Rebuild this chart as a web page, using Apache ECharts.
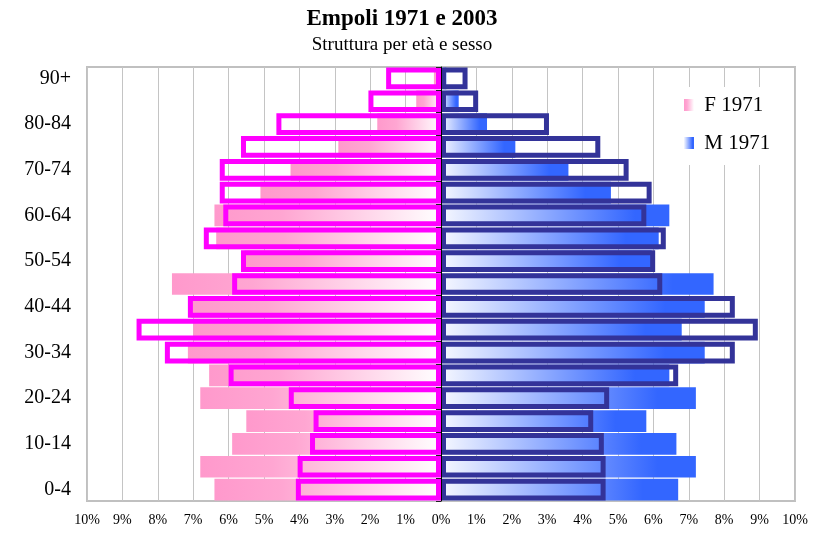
<!DOCTYPE html>
<html>

<head>
	<meta charset="utf-8">
	<title>Empoli 1971 e 2003</title>
	<script src="https://cdn.jsdelivr.net/npm/echarts@6/dist/echarts.min.js"></script>
	<style>
		html, body { margin: 0; padding: 0; background: #fff; }
		#chart { width: 814px; height: 533px; }
	</style>
</head>

<body>
	<div id="chart"></div>

	<script>
		// classi di età, dal basso verso l'alto
		var ageGroups = ['0-4', '5-9', '10-14', '15-19', '20-24', '25-29', '30-34', '35-39', '40-44', '45-49',
			'50-54', '55-59', '60-64', '65-69', '70-74', '75-79', '80-84', '85-89', '90+'];

		// percentuali sul totale
		var femmine1971 = [6.4, 6.8, 5.9, 5.5, 6.8, 6.55, 7.15, 7.0, 7.05, 7.6, 5.55, 6.35, 6.4, 5.1, 4.25, 2.9, 1.8, 0.7, 0.2];
		var maschi1971 = [6.7, 7.2, 6.65, 5.8, 7.2, 6.45, 7.45, 6.8, 7.45, 7.7, 5.95, 6.15, 6.45, 4.8, 3.6, 2.1, 1.3, 0.5, 0.15];
		var femmine2003 = [4.1, 4.05, 3.7, 3.6, 4.3, 6.0, 7.8, 8.6, 7.15, 5.9, 5.65, 6.7, 6.15, 6.25, 6.25, 5.65, 4.65, 2.05, 1.55];
		var maschi2003 = [4.65, 4.65, 4.6, 4.3, 4.75, 6.7, 8.3, 8.95, 8.3, 6.25, 6.05, 6.35, 5.8, 5.95, 5.3, 4.5, 3.05, 1.05, 0.75];

		var font = 'Liberation Serif';

		// le femmine vanno a sinistra
		function negativi(arr) {
			return arr.map(function (v) { return -v; });
		}

		var chart = echarts.init(document.getElementById('chart'));

		var option = {
			animation: false,
			title: {
				text: 'Empoli 1971 e 2003',
				subtext: 'Struttura per età e sesso',
				left: 402,
				top: 7,
				textAlign: 'center',
				padding: 0,
				itemGap: 2,
				textStyle: { fontFamily: font, fontSize: 23, fontWeight: 'bold', color: '#000', lineHeight: 25 },
				subtextStyle: { fontFamily: font, fontSize: 19, color: '#000', lineHeight: 22 }
			},
			legend: {
				data: ['F 1971', 'M 1971'],
				orient: 'vertical',
				left: 676,
				top: 87,
				padding: [6, 12, 10, 8],
				backgroundColor: '#fff',
				itemWidth: 10,
				itemHeight: 12,
				itemGap: 14,
				selectedMode: false,
				icon: 'rect',
				formatter: function (name) { return ' ' + name; },
				textStyle: { fontFamily: font, fontSize: 21, color: '#000', lineHeight: 24 }
			},
			grid: {
				left: 87,
				right: 19,
				top: 67,
				bottom: 32,
				show: true,
				borderColor: '#c0c0c0',
				borderWidth: 2
			},
			xAxis: {
				type: 'value',
				min: -10,
				max: 10,
				interval: 1,
				axisLine: { show: false },
				axisTick: { show: false },
				splitLine: { show: true, lineStyle: { color: '#c4c4c4', width: 1 } },
				axisLabel: {
					fontFamily: font,
					fontSize: 14,
					color: '#000',
					margin: 12,
					formatter: function (v) { return Math.abs(v) + '%'; }
				}
			},
			yAxis: [
				{
					// etichette a sinistra
					type: 'category',
					data: ageGroups,
					position: 'left',
					axisLine: { show: false, onZero: false },
					axisTick: { show: false },
					axisLabel: { interval: 1, align: 'right', margin: 16, fontFamily: font, fontSize: 20, color: '#000' }
				},
				{
					// asse centrale sullo zero
					type: 'category',
					data: ageGroups,
					position: 'left',
					z: 10,
					axisLine: { show: true, onZero: true, lineStyle: { color: '#000', width: 1 } },
					axisTick: { show: true, length: 5, lineStyle: { color: '#222' } },
					axisLabel: { show: false }
				}
			],
			series: [
				{
					name: 'F 1971',
					type: 'bar',
					yAxisIndex: 0,
					barGap: '-100%',
					barCategoryGap: '5%',
					data: negativi(femmine1971),
					itemStyle: {
						color: new echarts.graphic.LinearGradient(0, 0, 1, 0, [
							{ offset: 0, color: '#ff99cc' },
							{ offset: 0.3, color: '#ffa6d2' },
							{ offset: 1, color: '#ffffff' }
						])
					}
				},
				{
					name: 'M 1971',
					type: 'bar',
					yAxisIndex: 0,
					barGap: '-100%',
					barCategoryGap: '5%',
					data: maschi1971,
					itemStyle: {
						color: new echarts.graphic.LinearGradient(0, 0, 1, 0, [
							{ offset: 0, color: '#f6f8ff' },
							{ offset: 0.85, color: '#3366ff' },
							{ offset: 1, color: '#3366ff' }
						])
					}
				},
				{
					name: 'M 2003',
					type: 'bar',
					yAxisIndex: 0,
					barGap: '-100%',
					barCategoryGap: '5%',
					z: 3,
					data: maschi2003,
					itemStyle: { color: 'rgba(0,0,0,0)', borderColor: '#333399', borderWidth: 5 }
				},
				{
					name: 'F 2003',
					type: 'bar',
					yAxisIndex: 0,
					barGap: '-100%',
					barCategoryGap: '5%',
					z: 4,
					data: negativi(femmine2003),
					itemStyle: { color: 'rgba(0,0,0,0)', borderColor: '#ff00ff', borderWidth: 5 }
				}
			]
		};

		chart.setOption(option);
	</script>
</body>

</html>
